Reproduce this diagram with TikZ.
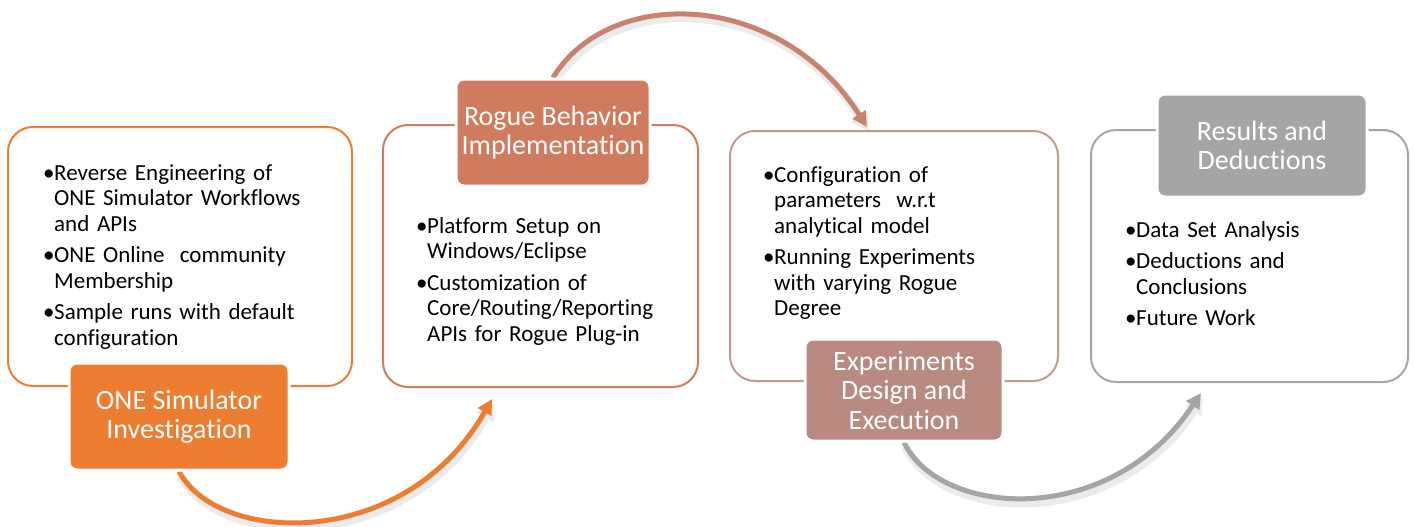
\documentclass[tikz,border=0pt]{standalone}
\usepackage{fontspec}
\setmainfont{Carlito}[Ligatures=NoCommon]
\usetikzlibrary{arrows.meta,positioning,calc,backgrounds}

\definecolor{oneorange}{HTML}{ED7D31}
\definecolor{roguered}{HTML}{D07B5D}
\definecolor{roguearc}{HTML}{C8836F}
\definecolor{exprose}{HTML}{B98A80}
\definecolor{expline}{HTML}{C39A91}
\definecolor{resgray}{HTML}{A5A5A5}

\newcommand{\notefont}{\fontsize{23}{25.5}\selectfont}
\newcommand{\tagfont}{\fontsize{28}{29.5}\selectfont}
\newcommand{\bitem}{\noindent\hangindent=9pt\hangafter=1\makebox[9pt][l]{\kern-2pt\textbullet}}
\newcommand{\itemgap}{\par\vspace{6pt}}

\begin{document}
\begin{tikzpicture}[x=1pt,y=-1pt,
  frame/.style={draw=#1,line width=2pt,rounded corners=25pt,fill=white},
  tag/.style={fill=#1,draw=white,line width=3pt,rounded corners=8pt,
    text=white,align=center,font=\tagfont},
  note/.style={text width=#1,anchor=base west,inner sep=0pt,font=\notefont},
  flow/.style={line width=5pt,draw=#1,-{Triangle[length=15pt,width=15pt]}},
  glow/.style={line width=9pt,draw=black!8,-{Triangle[length=17pt,width=19pt]}}]
  \useasboundingbox (0,0) rectangle (1413,527);

  % frames
  \node[frame=oneorange,minimum width=344pt,minimum height=259pt] (box1) at (180,256.5) {};
  \node[frame=roguered,minimum width=315pt,minimum height=262pt] (box2) at (540.5,256) {};
  \node[frame=expline,minimum width=328pt,minimum height=250pt] (box3) at (894,256) {};
  \node[frame=resgray,minimum width=317pt,minimum height=252pt] (box4) at (1249.5,256) {};

  % bullet texts
  \node[note=300pt] (note1) at (45,180) {\bitem Reverse Engineering of\newline ONE Simulator Workflows\newline and APIs\itemgap
    \bitem ONE Online\ \ community\newline Membership\itemgap
    \bitem Sample runs with default\newline configuration\par};
  \node[note=270pt] (note2) at (418,233) {\bitem Platform Setup on\newline Windows/Eclipse\itemgap
    \bitem Customization of\newline Core/Routing/Reporting\newline APIs for Rogue Plug-in\par};
  \node[note=270pt] (note3) at (765,182) {\bitem Configuration of\newline parameters\ \ w.r.t\newline analytical model\itemgap
    \bitem Running Experiments\newline with varying Rogue\newline Degree\par};
  \node[note=260pt] (note4) at (1127,237) {\bitem Data Set Analysis\itemgap
    \bitem Deductions and\newline Conclusions\itemgap
    \bitem Future Work\par};

  % tags
  \node[tag=oneorange,minimum width=220pt,minimum height=107pt] (tag1) at (179,416.5) {ONE Simulator\\Investigation};
  \node[tag=roguered,minimum width=194pt,minimum height=107pt] (tag2) at (553,132.5) {Rogue Behavior\\Implementation};
  \node[tag=exprose,minimum width=198pt,minimum height=102pt] (tag3) at (904,390) {Experiments\\Design and\\Execution};
  \node[tag=resgray,minimum width=210pt,minimum height=103pt] (tag4) at (1262,145.5) {Results and\\Deductions};

  % arrow ends
  \coordinate (end1) at ($(box2.south west)+(110,11)$);
  \coordinate (end2) at ($(box3.north west)+(138,-3)$);
  \coordinate (end3) at ($(box4.south west)+(111,10)$);

  \begin{scope}[on background layer]
    % shadows
    \begin{scope}[transform canvas={shift={(1.5pt,-4pt)}}]
      \draw[glow] (tag1.south) .. controls (218,545) and (405,552) .. (end1);
      \draw[glow] (tag2.north) .. controls (610,-15) and (780,-10) .. (end2);
      \draw[glow] (tag3.south) .. controls (940,517) and (1110,530) .. (end3);
    \end{scope}
    % arcs
    \draw[flow=oneorange] (tag1.south) .. controls (218,545) and (405,552) .. (end1);
    \draw[flow=roguearc] (tag2.north) .. controls (610,-15) and (780,-10) .. (end2);
    \draw[flow=resgray] (tag3.south) .. controls (940,517) and (1110,530) .. (end3);
  \end{scope}
\end{tikzpicture}
\end{document}
